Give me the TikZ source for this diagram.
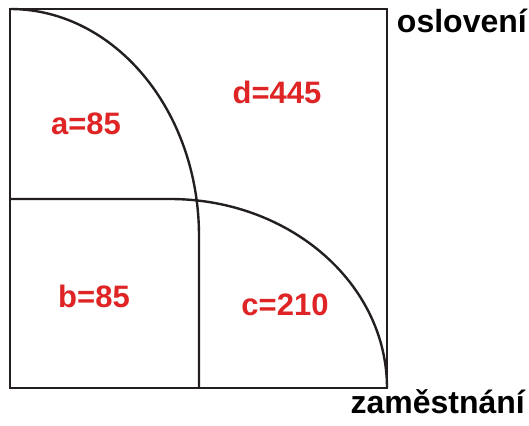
\documentclass[tikz,border=0pt]{standalone}
\usepackage{fontspec}
\setmainfont{Liberation Sans}
\definecolor{labred}{RGB}{222,36,36}
\definecolor{ink}{RGB}{35,31,32}
\begin{document}
\begin{tikzpicture}[x=1pt,y=1pt,
  edge/.style={draw=ink,line width=2.4pt},
  val/.style={text=labred,font=\fontsize{31}{36}\selectfont\bfseries,inner sep=0pt},
  axis/.style={text=black,font=\fontsize{32}{36}\selectfont\bfseries,inner sep=0pt}]
\useasboundingbox (0,0) rectangle (529,425);
\draw[edge] (10,37) rectangle (387,416);
\draw[edge] (10,416) arc[start angle=90,end angle=0,x radius=189,y radius=227] -- (199,37);
\draw[edge] (10,226) -- (170,226) arc[start angle=90,end angle=0,x radius=217,y radius=189];
\node[val] (a) at (86,301) {a=85};
\node[val] (d) at (277,333) {d=445};
\node[val] (b) at (94,129) {b=85};
\node[val] (c) at (285,120) {c=210};
\node[axis,anchor=base east] (osl) at (527,392) {oslovení};
\node[axis,anchor=base east] (zam) at (525,12) {zaměstnání};
\end{tikzpicture}
\end{document}
